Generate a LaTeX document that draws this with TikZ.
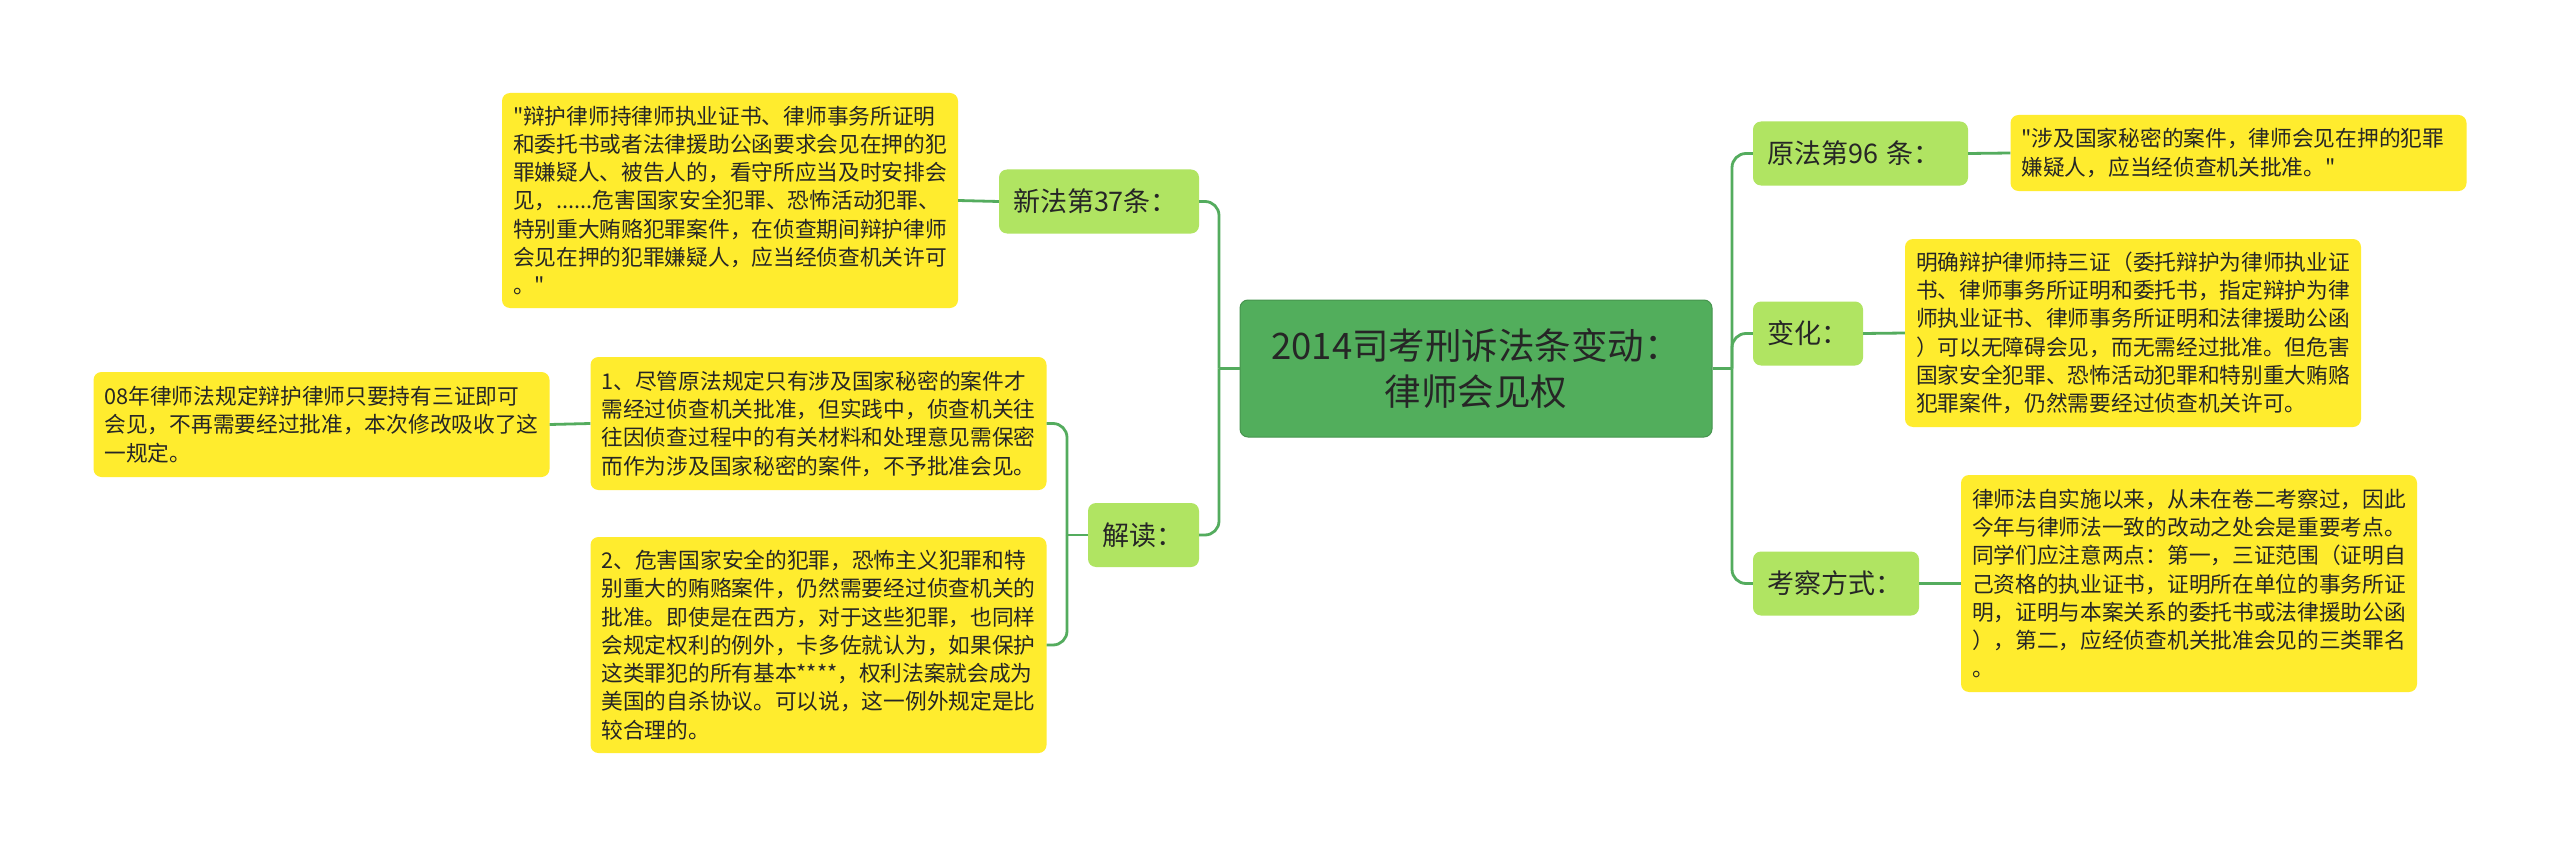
\documentclass[tikz,border=0pt]{standalone}
\usepackage{fontspec}
\newfontfamily\cjk{Noto Sans CJK SC}
\usepackage{tikz}

\definecolor{rootgreen}{RGB}{82,174,92}
\definecolor{branchgreen}{RGB}{176,228,98}
\definecolor{leafyellow}{RGB}{255,236,46}
\definecolor{linkgreen}{RGB}{84,172,94}
\definecolor{inktext}{RGB}{38,38,38}

\tikzset{
  rootbox/.style={fill=rootgreen, draw=rootgreen!85!black, line width=1pt, rounded corners=8pt,
    text=inktext, align=center, minimum width=472pt, minimum height=137pt,
    font=\cjk\fontsize{36.5}{46}\selectfont},
  branchbox/.style={fill=branchgreen, rounded corners=8pt, text=inktext, align=left,
    inner xsep=14pt, minimum height=64pt, font=\cjk\fontsize{27}{32}\selectfont},
  leafbox/.style={fill=leafyellow, rounded corners=8pt, text=inktext, align=left,
    text width=434pt, inner xsep=11pt, font=\cjk\fontsize{21.7}{28.3}\selectfont},
  link/.style={draw=linkgreen, line width=2.8pt, rounded corners=14pt},
}

\begin{document}
\begin{tikzpicture}[x=1pt,y=-1pt]
    % Page frame
    \fill[white] (0,0) rectangle (2560,848);
    \useasboundingbox (0,0) rectangle (2560,848);

    % Hub points of the trunks
    \coordinate (lhub) at (1219,368.5);
    \coordinate (rhub) at (1732,368.5);
    \coordinate (jhub) at (1067,535);

    % Central topic
    \node[rootbox] (root) at (1476,368.5) {2014司考刑诉法条变动：\\律师会见权};

    % Left branches
    \node[branchbox, text width=172pt] (xinfa) at (1099,201.5) {新法第37条：};
    \node[branchbox, text width=83pt] (jiedu) at (1143.5,535) {解读：};

    \node[leafbox, minimum height=215pt] (xinfatext) at (730,200.5)
      {"辩护律师持律师执业证书、律师事务所证明\\
       和委托书或者法律援助公函要求会见在押的犯\\
       罪嫌疑人、被告人的，看守所应当及时安排会\\
       见，......危害国家安全犯罪、恐怖活动犯罪、\\
       特别重大贿赂犯罪案件，在侦查期间辩护律师\\
       会见在押的犯罪嫌疑人，应当经侦查机关许可\\
       。"};
    \node[leafbox, minimum height=133pt] (jiedu1) at (818.5,423.5)
      {1、尽管原法规定只有涉及国家秘密的案件才\\
       需经过侦查机关批准，但实践中，侦查机关往\\
       往因侦查过程中的有关材料和处理意见需保密\\
       而作为涉及国家秘密的案件，不予批准会见。};
    \node[leafbox, minimum height=216pt] (jiedu2) at (818.5,645)
      {2、危害国家安全的犯罪，恐怖主义犯罪和特\\
       别重大的贿赂案件，仍然需要经过侦查机关的\\
       批准。即使是在西方，对于这些犯罪，也同样\\
       会规定权利的例外，卡多佐就认为，如果保护\\
       这类罪犯的所有基本****，权利法案就会成为\\
       美国的自杀协议。可以说，这一例外规定是比\\
       较合理的。};
    \node[leafbox, minimum height=105pt] (lvshifa) at (321.5,424.5)
      {08年律师法规定辩护律师只要持有三证即可\\
       会见，不再需要经过批准，本次修改吸收了这\\
       一规定。};

    % Right branches
    \node[branchbox, text width=187pt] (yuanfa) at (1860.5,153.5) {原法第96 条：};
    \node[branchbox, text width=82pt] (bianhua) at (1808,333.5) {变化：};
    \node[branchbox, text width=138pt] (kaocha) at (1836,583.5) {考察方式：};

    \node[leafbox, minimum height=76pt] (yuanfatext) at (2238.5,153)
      {"涉及国家秘密的案件，律师会见在押的犯罪\\
       嫌疑人，应当经侦查机关批准。"};
    \node[leafbox, minimum height=188pt] (bianhuatext) at (2133,333)
      {明确辩护律师持三证（委托辩护为律师执业证\\
       书、律师事务所证明和委托书，指定辩护为律\\
       师执业证书、律师事务所证明和法律援助公函\\
       ）可以无障碍会见，而无需经过批准。但危害\\
       国家安全犯罪、恐怖活动犯罪和特别重大贿赂\\
       犯罪案件，仍然需要经过侦查机关许可。};
    \node[leafbox, minimum height=217pt] (kaochatext) at (2189,583.5)
      {律师法自实施以来，从未在卷二考察过，因此\\
       今年与律师法一致的改动之处会是重要考点。\\
       同学们应注意两点：第一，三证范围（证明自\\
       己资格的执业证书，证明所在单位的事务所证\\
       明，证明与本案关系的委托书或法律援助公函\\
       ），第二，应经侦查机关批准会见的三类罪名\\
       。};

    % Draw the connectors on the left
    \draw[link] (root.west) -- (lhub);
    \draw[link] (lhub) |- (xinfa.east);
    \draw[link] (lhub) |- (jiedu.east);
    \draw[link] (xinfa.west) -- (xinfatext.east);
    \draw[link] (jiedu.west) -- (jhub);
    \draw[link] (jhub) |- (jiedu1.east);
    \draw[link] (jhub) |- (jiedu2.east);
    \draw[link] (jiedu1.west) -- (lvshifa.east);

    % Draw the connectors on the right
    \draw[link] (root.east) -- (rhub);
    \draw[link] (rhub) |- (yuanfa.west);
    \draw[link] (rhub) |- (bianhua.west);
    \draw[link] (rhub) |- (kaocha.west);
    \draw[link] (yuanfa.east) -- (yuanfatext.west);
    \draw[link] (bianhua.east) -- (bianhuatext.west);
    \draw[link] (kaocha.east) -- (kaochatext.west);
\end{tikzpicture}
\end{document}
